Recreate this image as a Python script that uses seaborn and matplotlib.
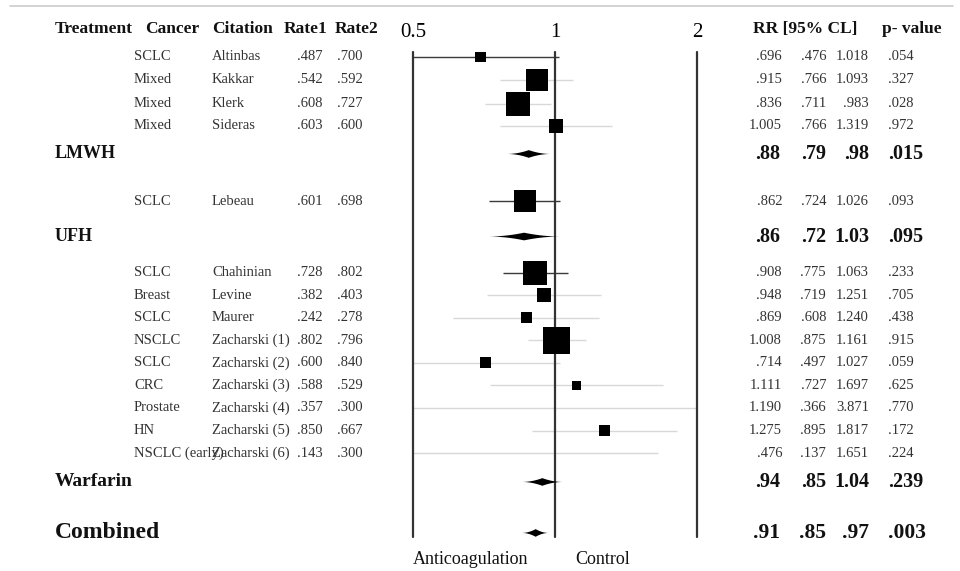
import numpy as np
import pandas as pd
import seaborn as sns
import matplotlib.pyplot as plt
from matplotlib.transforms import blended_transform_factory

# study rows, in display order
treatment = ["LMWH"] * 4 + ["UFH"] + ["Warfarin"] * 9
cancer = ["SCLC", "Mixed", "Mixed", "Mixed", "SCLC", "SCLC", "Breast", "SCLC",
          "NSCLC", "SCLC", "CRC", "Prostate", "HN", "NSCLC (early)"]
citation = ["Altinbas", "Kakkar", "Klerk", "Sideras", "Lebeau", "Chahinian", "Levine",
            "Maurer", "Zacharski (1)", "Zacharski (2)", "Zacharski (3)",
            "Zacharski (4)", "Zacharski (5)", "Zacharski (6)"]
rate1 = [".487", ".542", ".608", ".603", ".601", ".728", ".382", ".242", ".802",
         ".600", ".588", ".357", ".850", ".143"]
rate2 = [".700", ".592", ".727", ".600", ".698", ".802", ".403", ".278", ".796",
         ".840", ".529", ".300", ".667", ".300"]
rr = [.696, .915, .836, 1.005, .862, .908, .948, .869, 1.008, .714, 1.111, 1.190, 1.275, .476]
rr_lo = [.476, .766, .711, .766, .724, .775, .719, .608, .875, .497, .727, .366, .895, .137]
rr_hi = [1.018, 1.093, .983, 1.319, 1.026, 1.063, 1.251, 1.240, 1.161, 1.027, 1.697,
         3.871, 1.817, 1.651]
p_val = [".054", ".327", ".028", ".972", ".093", ".233", ".705", ".438", ".915",
         ".059", ".625", ".770", ".172", ".224"]
# relative study weight (square side)
weight = [11, 22, 24, 14, 22, 24, 14, 11, 27, 11, 9, 0, 11, 9]

# pooled estimates
groups = ["LMWH", "UFH", "Warfarin", "Combined"]
sum_rr = [.88, .86, .94, .91]
sum_lo = [.79, .72, .85, .85]
sum_hi = [.98, 1.03, 1.04, .97]
sum_p = [".015", ".095", ".239", ".003"]

# ---- layout -------------------------------------------------------------
# display order: ("s", study index) or ("g", group index), and gap before each row
order = [("s", 0), ("s", 1), ("s", 2), ("s", 3), ("g", 0), ("s", 4), ("g", 1),
         ("s", 5), ("s", 6), ("s", 7), ("s", 8), ("s", 9), ("s", 10), ("s", 11),
         ("s", 12), ("s", 13), ("g", 2), ("g", 3)]
row_gaps = [0, 1.02, 1.06, 0.97, 1.25, 2.1, 1.56, 1.6, 1.0, 1.0, 1.0, 1.0, 1.0,
            1.0, 1.0, 1.0, 1.28, 2.26]
ypos = np.cumsum(row_gaps)
study_y = np.zeros(len(citation))
group_y = np.zeros(len(groups))
for (kind, i), y in zip(order, ypos):
    if kind == "s":
        study_y[i] = y
    else:
        group_y[i] = y

dark_ci = {"Altinbas", "Lebeau", "Chahinian"}


def fmt(v, nd):
    s = f"{v:.{nd}f}"
    return s[1:] if s.startswith("0.") else s


sns.set_theme(style="white")
plt.rcParams['font.family'] = ['Liberation Serif', 'DejaVu Serif']

W, H = 960, 571
fig = plt.figure(figsize=(9.6, 5.71), dpi=100)
ax = fig.add_axes([413 / W, 1 - 537 / H, (697 - 413) / W, (537 - 52) / H])
ax.set_xscale('log', base=2)
ax.set_xlim(0.5, 2)
ax.set_ylim(ypos[-1] + 0.18, -0.22)

# CI lines
ci_cols = ["#3a3a3a" if c in dark_ci else "#d8d8d8" for c in citation]
ax.hlines(study_y, rr_lo, rr_hi, colors=ci_cols, lw=1.0, zorder=1)

# reference lines
for v in [0.5, 1, 2]:
    ax.axvline(v, color="#333333", lw=1.6, zorder=2, clip_on=False)

# study squares
df = pd.DataFrame({"rr": rr, "y": study_y,
                   "area": [(w * 0.72) ** 2 for w in weight]})
amax = df["area"].max()
sns.scatterplot(data=df, x="rr", y="y", size="area", sizes=(0, amax),
                size_norm=(0, amax), marker="s", color="black", linewidth=0,
                legend=False, ax=ax, zorder=3)

# pooled diamonds (concave)
u = np.linspace(-1, 1, 41)
h = 0.17
for m, lo, hi, y in zip(sum_rr, sum_lo, sum_hi, group_y):
    lm, ll, lh = np.log2(m), np.log2(lo), np.log2(hi)
    xs = np.where(u < 0, lm + u * (lm - ll), lm + u * (lh - lm))
    t = h * (1 - np.abs(u)) ** 2
    ax.fill(np.concatenate([2 ** xs, 2 ** xs[::-1]]),
            np.concatenate([y - t, (y + t)[::-1]]),
            color="black", lw=0, zorder=3)

ax.set_xticks([0.5, 1, 2], labels=["0.5", "1", "2"])
ax.minorticks_off()
ax.xaxis.tick_top()
ax.tick_params(axis="x", length=0, pad=7, labelsize=15, labelcolor="black")
ax.set_yticks([])
ax.set_xlabel("")
ax.set_ylabel("")
for s in ax.spines.values():
    s.set_visible(False)

tr = blended_transform_factory(fig.transFigure, ax.transData)


def put(xpx, y, s, ha="left", **kw):
    ax.text(xpx / W, y, s, transform=tr, ha=ha, va="center", **kw)


# header
hy = -1.22
hdr = dict(fontsize=12.5, fontweight="bold", color="#111111")
put(55, hy, "Treatment", **hdr)
put(145, hy, "Cancer", **hdr)
put(212, hy, "Citation", **hdr)
put(284, hy, "Rate1", **hdr)
put(335, hy, "Rate2", **hdr)
put(753, hy, "RR [95% CL]", **hdr)
put(882, hy, "p- value", **hdr)

# study rows
st = dict(fontsize=10.5, color="#333333")
for i, y in enumerate(study_y):
    put(134, y, cancer[i], **st)
    put(212, y, citation[i], **st)
    put(323, y, rate1[i], ha="right", **st)
    put(363, y, rate2[i], ha="right", **st)
    put(782, y, fmt(rr[i], 3), ha="right", **st)
    put(826, y, fmt(rr_lo[i], 3), ha="right", **st)
    put(869, y, fmt(rr_hi[i], 3), ha="right", **st)
    put(888, y, p_val[i], **st)

# pooled rows
gsize = [13, 13, 14, 17]
nsize = [14.5, 14.5, 14.5, 15.5]
for i, y in enumerate(group_y):
    put(55, y, groups[i], fontsize=gsize[i], fontweight="bold", color="#111111")
    gk = dict(fontsize=nsize[i], fontweight="bold", color="#111111")
    put(780, y, fmt(sum_rr[i], 2), ha="right", **gk)
    put(826, y, fmt(sum_lo[i], 2), ha="right", **gk)
    put(869, y, fmt(sum_hi[i], 2), ha="right", **gk)
    put(888, y, sum_p[i], **gk)

fig.text(471 / W, 1 - 560 / H, "Anticoagulation", ha="center", va="center",
         fontsize=13, color="#111111")
fig.text(603 / W, 1 - 560 / H, "Control", ha="center", va="center",
         fontsize=13, color="#111111")

fig.add_artist(plt.Line2D([10 / W, 953 / W], [1 - 6 / H, 1 - 6 / H],
                          transform=fig.transFigure, color="#cccccc", lw=1.2))

fig.savefig("out.png", dpi=100)
